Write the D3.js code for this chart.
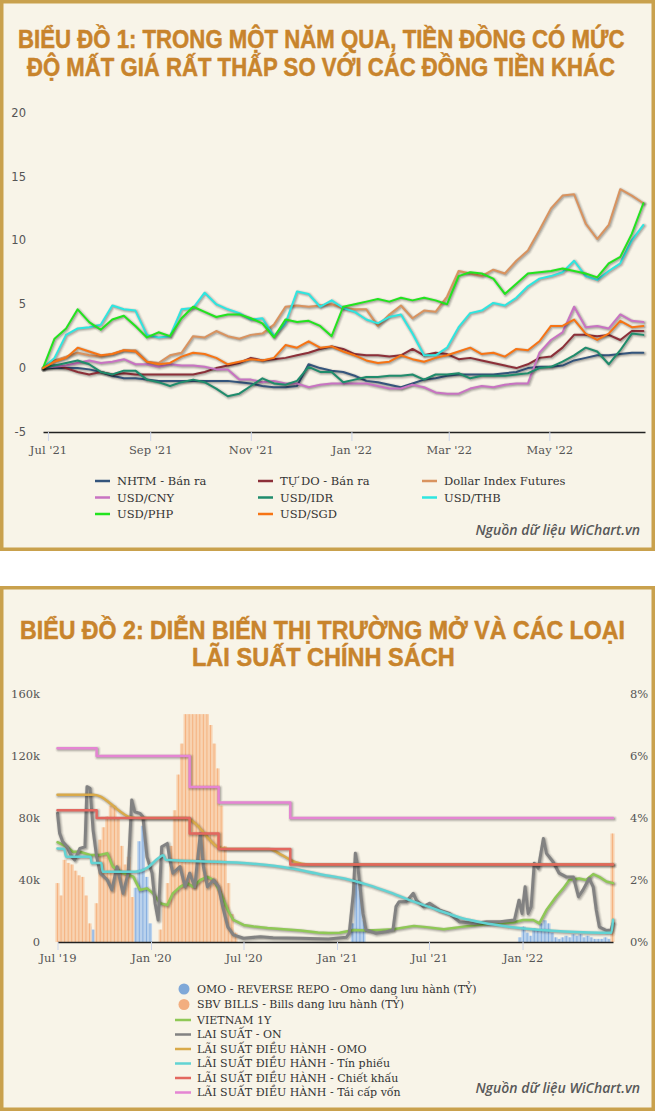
<!DOCTYPE html>
<html><head><meta charset="utf-8">
<script src="https://cdn.jsdelivr.net/npm/d3@7/dist/d3.min.js"></script>
<style>
html,body{margin:0;padding:0;background:#fff;}
svg{display:block;}
</style></head>
<body>
<svg id="c" width="656" height="1111"></svg>
<script>
// ---------------- CHART 1 DATA (% change since 28 Jun 2021, weekly) ----------------
const fxStart = '2021-06-28', fxEnd = '2022-06-28';
const fxNames = ['NHTM - Bán ra','TỰ DO - Bán ra','Dollar Index Futures','USD/CNY','USD/IDR','USD/THB','USD/PHP','USD/SGD'];
const fxColors = ['#34557c','#8c2f38','#d9935f','#c873c2','#1f8c6c','#2ee6e0','#22e41e','#f77414'];
const nhtm = [0,0,0,0,-0.1,-0.3,-0.6,-0.8,-0.8,-0.9,-1.0,-1.0,-1.0,-1.0,-1.0,-1.0,-1.0,-1.1,-1.2,-1.4,-1.5,-1.5,-1.4,0.3,0.0,-0.2,-0.3,-0.6,-1.0,-1.1,-1.3,-1.5,-1.2,-0.9,-0.8,-0.6,-0.5,-0.5,-0.5,-0.5,-0.4,-0.3,0.0,0.1,0.1,0.2,0.6,0.8,1.0,1.0,1.1,1.2,1.2];
const tudo = [0,0.2,0.0,-0.3,-0.5,-0.3,-0.5,-0.4,-0.5,-0.5,-0.5,-0.5,-0.5,-0.5,-0.3,0.0,0.2,0.4,0.8,0.6,0.7,0.8,1.0,1.2,1.5,1.7,1.5,1.1,1.0,1.0,0.9,1.0,1.5,1.0,1.2,1.1,0.7,0.8,0.6,0.4,0.2,0.0,0.3,0.8,0.9,1.6,2.6,2.6,2.5,2.6,2.2,2.9,2.9];
const dxy = [0,0.6,0.9,1.2,1.0,0.9,1.1,1.4,1.4,0.5,0.4,1.0,1.2,2.5,2.4,2.9,2.5,2.3,2.6,2.7,3.4,4.8,4.9,4.8,4.9,5.0,4.7,4.6,4.6,3.3,4.2,4.9,3.9,4.5,4.4,5.6,7.6,7.4,7.2,7.7,7.4,8.4,9.2,10.8,12.5,13.5,13.6,11.3,10.1,11.2,14.0,13.5,12.9];
const cny = [0,0.1,0.2,0.4,0.6,0.4,0.5,0.7,0.3,0.3,0.1,0.3,0.2,0.2,0.1,-0.1,-0.1,-0.9,-0.9,-1.1,-1.0,-1.2,-1.2,-1.5,-1.3,-1.2,-1.2,-1.2,-1.2,-1.4,-1.6,-1.6,-1.3,-1.5,-1.9,-2.0,-2.0,-1.6,-1.4,-1.5,-1.3,-1.2,-1.2,1.2,2.2,2.8,4.8,3.2,3.3,3.1,4.2,3.7,3.6];
const idr = [0,0.2,0.4,0.6,0.3,-0.3,-0.5,-0.2,-0.2,-0.9,-1.1,-1.4,-1.1,-0.9,-1.1,-1.6,-2.2,-2.0,-1.4,-0.8,-1.2,-1.3,-1.0,0.1,-0.3,-0.3,-1.1,-0.9,-0.7,-0.7,-0.6,-0.6,-0.5,-0.9,-0.5,-0.5,-0.4,-0.8,-0.6,-0.6,-0.6,-0.5,-0.4,0.0,0.1,0.5,1.0,1.6,1.3,0.3,1.4,2.7,2.6];
const thb = [0,0.8,2.6,3.1,3.2,3.4,4.9,4.6,4.5,2.6,2.4,2.5,4.6,4.7,5.9,5.0,4.6,4.3,3.8,3.9,2.5,3.5,6.0,5.8,4.8,5.3,4.7,4.4,3.8,3.5,4.0,4.2,2.7,1.0,1.0,1.6,3.2,4.3,4.5,5.1,4.9,5.5,6.4,7.0,7.2,7.5,8.4,7.2,6.9,7.6,8.2,10.0,11.2];
const php = [0,2.3,3.1,4.6,3.6,3.0,3.8,4.1,3.3,2.4,2.8,2.5,3.9,4.8,4.4,4.0,4.2,4.2,3.9,3.5,2.4,3.8,3.6,3.7,3.3,2.5,4.8,5.0,5.2,5.4,5.2,5.5,5.3,5.5,5.3,5.0,7.2,7.5,7.4,7.0,5.8,6.6,7.4,7.5,7.6,7.8,7.6,7.4,7.1,8.2,8.7,10.5,12.9];
const sgd = [0,0.5,0.8,1.6,1.3,1.0,1.1,1.4,1.3,0.5,0.3,0.4,0.9,1.2,1.1,0.8,0.3,0.5,0.7,0.6,0.8,1.8,1.6,2.1,1.6,1.7,1.3,1.0,0.6,0.4,0.5,1.0,0.7,0.5,0.8,1.0,1.3,1.6,1.1,1.2,0.9,1.5,1.4,2.1,3.3,3.3,3.8,2.7,2.2,2.7,3.7,3.2,3.3];
const fxSeries = [nhtm,tudo,dxy,cny,idr,thb,php,sgd];
const fxTicksY = [-5,0,5,10,15,20];

// ---------------- CHART 2 DATA ----------------
const c2Start = '2019-07-01', c2End = '2022-06-28';
const omoDates = ['2019-09-02','2019-09-09','2019-11-25','2019-12-02','2019-12-09','2019-12-16','2019-12-23','2019-12-30','2021-02-01','2021-02-08','2021-02-15','2021-02-22','2021-12-27','2022-01-03','2022-01-10','2022-01-17','2022-01-24','2022-01-31','2022-02-07','2022-02-14','2022-02-21','2022-02-28','2022-03-07','2022-03-14','2022-03-21','2022-03-28','2022-04-04','2022-04-11','2022-04-18','2022-04-25','2022-05-02','2022-05-09','2022-05-16','2022-05-23','2022-05-30','2022-06-06','2022-06-13','2022-06-20'];
const omoValues = [10,8,8,35,65,75,42,12,12,40,38,14,3,10,6,4,9,8,12,14,12,6,3,2,3,4,3,5,4,5,3,4,3,2,2,2,3,2];
const billDates = ['2019-07-01','2019-07-08','2019-07-15','2019-07-22','2019-07-29','2019-08-05','2019-08-12','2019-08-19','2019-08-26','2019-09-02',
 '2019-09-16','2019-09-23','2019-09-30','2019-10-07','2019-10-14','2019-10-21','2019-10-28','2019-11-04','2019-11-11','2019-11-18','2019-11-25',
 '2020-01-20','2020-01-27','2020-02-03','2020-02-10','2020-02-17','2020-02-24','2020-03-02','2020-03-09','2020-03-16','2020-03-23','2020-03-30','2020-04-06','2020-04-13','2020-04-20','2020-04-27','2020-05-04','2020-05-11','2020-05-18','2020-05-25','2020-06-01','2020-06-08','2020-06-15',
 '2022-06-27'];
const billValues = [38,30,53,51,50,46,43,42,30,12,
 25,66,74,81,88,88,80,62,50,55,29,
 8,25,38,62,85,108,128,147,147,147,147,147,147,147,140,128,112,88,62,38,18,6,
 70];
const vn1yDates = ['2019-07-01','2019-07-20','2019-07-31','2019-08-14','2019-09-03','2019-09-23','2019-10-07','2019-10-18','2019-11-07','2019-11-27','2019-12-10','2019-12-24','2020-01-05','2020-01-19','2020-02-02','2020-02-13','2020-02-27','2020-03-12','2020-03-24','2020-04-07','2020-04-21','2020-05-03','2020-05-17','2020-05-31','2020-06-11','2020-07-01','2020-07-21','2020-08-17','2020-09-18','2020-10-21','2020-11-24','2020-12-15','2021-01-06','2021-02-03','2021-02-28','2021-03-26','2021-04-22','2021-06-01','2021-06-26','2021-07-30','2021-08-30','2021-10-03','2021-11-05','2021-12-14','2022-01-02','2022-01-22','2022-02-03','2022-02-17','2022-03-08','2022-03-22','2022-04-03','2022-04-22','2022-05-06','2022-05-20','2022-06-01','2022-06-15','2022-06-28'];
const vn1yValues = [3.22,3.07,2.91,2.91,2.81,2.81,2.86,2.43,2.22,2.11,1.68,1.73,1.57,1.25,1.19,1.57,1.78,1.9,1.78,2.0,2.1,2.0,1.57,1.03,0.71,0.55,0.5,0.45,0.41,0.37,0.31,0.29,0.3,0.39,0.37,0.39,0.41,0.52,0.48,0.41,0.48,0.55,0.6,0.63,0.71,0.71,0.6,1.03,1.46,1.73,2.0,2.05,2.0,2.19,2.1,1.95,1.9];
const onDates = ['2019-07-01','2019-07-05','2019-07-11','2019-07-20','2019-07-29','2019-08-04','2019-08-14','2019-08-24','2019-08-28','2019-09-03','2019-09-09','2019-09-16','2019-09-23','2019-10-07','2019-10-16','2019-10-26','2019-11-07','2019-11-17','2019-11-24','2019-11-30','2019-12-10','2019-12-16','2019-12-24','2020-01-03','2020-01-09','2020-01-15','2020-01-22','2020-02-02','2020-02-07','2020-02-13','2020-02-27','2020-03-08','2020-03-17','2020-03-27','2020-04-07','2020-04-13','2020-04-21','2020-05-03','2020-05-13','2020-05-21','2020-05-31','2020-06-11','2020-07-01','2020-08-03','2020-08-28','2020-10-21','2020-12-15','2021-01-19','2021-01-25','2021-02-02','2021-02-06','2021-02-11','2021-02-13','2021-02-21','2021-02-27','2021-03-19','2021-04-08','2021-04-21','2021-04-27','2021-05-03','2021-05-17','2021-05-31','2021-06-06','2021-06-20','2021-07-02','2021-07-22','2021-08-10','2021-08-30','2021-09-27','2021-10-23','2021-11-18','2021-12-16','2021-12-25','2021-12-31','2022-01-06','2022-01-12','2022-01-18','2022-01-24','2022-02-01','2022-02-11','2022-02-17','2022-03-02','2022-03-14','2022-03-28','2022-04-11','2022-04-21','2022-04-30','2022-05-12','2022-05-20','2022-05-26','2022-06-01','2022-06-15','2022-06-24','2022-06-28'];
const onValues = [4.15,3.52,3.24,3.07,2.75,2.65,3.02,3.07,5.01,4.96,3.61,2.75,2.22,2.0,1.68,2.43,1.57,2.22,4.58,4.2,4.15,4.04,2.75,2.22,1.25,0.71,3.07,3.18,2.65,2.22,2.43,1.78,2.22,1.78,3.5,2.43,1.78,2.0,1.78,1.14,0.49,0.23,0.12,0.17,0.14,0.12,0.1,0.15,0.28,1.57,2.86,2.43,2.1,0.92,0.39,0.28,0.33,0.39,1.14,1.3,1.3,1.57,1.35,1.14,1.25,1.03,0.92,0.65,0.6,0.65,0.65,0.71,1.35,0.92,1.78,0.92,1.14,2.54,2.38,3.34,2.86,2.59,2.22,2.1,2.1,1.46,1.68,2.05,1.78,1.03,0.49,0.37,0.39,0.6];
const omoRateDates = ['2019-07-01','2019-09-09','2019-09-23','2019-10-13','2019-11-02','2019-11-22','2019-12-10','2020-03-10','2020-03-31','2020-04-20','2020-05-10','2020-06-01','2020-08-20','2020-09-15','2020-10-10','2020-11-05','2022-06-28'];
const omoRateValues = [4.75,4.75,4.7,4.47,4.2,4.02,4.0,4.0,3.78,3.4,3.08,3.0,3.0,2.8,2.58,2.5,2.5];
const tinDates = ['2019-07-01','2019-07-14','2019-07-18','2019-09-04','2019-09-06','2019-09-25','2019-09-28','2019-12-01','2019-12-25','2020-01-15','2020-01-25','2020-01-30','2020-07-01','2020-10-01','2020-12-01','2021-01-15','2021-03-01','2021-04-15','2021-06-01','2021-07-15','2021-09-01','2021-10-15','2021-12-01','2022-01-15','2022-03-01','2022-04-15','2022-06-01','2022-06-25','2022-06-28'];
const tinValues = [3.02,3.0,2.75,2.75,2.55,2.55,2.27,2.27,2.4,2.7,2.8,2.65,2.55,2.38,2.18,2.05,1.85,1.6,1.3,1.05,0.78,0.62,0.5,0.42,0.36,0.32,0.3,0.3,0.72];
const policyDates = ['2019-07-01','2019-09-16','2020-03-17','2020-05-13','2020-10-01','2022-06-28'];
const discountValues = [4.25,4.0,3.5,3.0,2.5,2.5];
const refiValues = [6.25,6.0,5.0,4.5,4.0,4.0];
const leftTicks = [0,40,80,120,160];
const rightTicks = [0,2,4,6,8];
const c2LineNames = ['VIETNAM 1Y','LAI SUẤT - ON','LÃI SUẤT ĐIỀU HÀNH - OMO','LÃI SUẤT ĐIỀU HÀNH - Tín phiếu','LÃI SUẤT ĐIỀU HÀNH - Chiết khấu','LÃI SUẤT ĐIỀU HÀNH - Tái cấp vốn'];
const c2LineColors = ['#8fc856','#828282','#d9aa4a','#62d3d3','#e3675f','#e585d3'];
const c2BarNames = ['OMO - REVERSE REPO - Omo dang lưu hành (TỶ)','SBV BILLS - Bills dang lưu hành (TỶ)'];
const c2BarColors = ['#7fa8d8','#f2ae80'];

// ---------------- DRAWING ----------------
const parse = d3.timeParse('%Y-%m-%d');
const svg = d3.select('#c');
const serif = "'DejaVu Serif', serif";
const titleFont = "'Liberation Sans Narrow','Liberation Sans',Arial,sans-serif";
const titleColor = '#c8842c';

function panel(y0, y1) {
  svg.append('rect').attr('x',1.75).attr('y',y0+1.75).attr('width',651.5).attr('height',y1-y0-3.5)
    .attr('fill','#f8f4e8').attr('stroke','#c9a14d').attr('stroke-width',3.5);
}
panel(0,551);
panel(586,1111);

function title(lines) {
  lines.forEach(l => {
    const t = svg.append('text').attr('x',0).attr('y',0).text(l[0])
      .attr('font-family',titleFont).attr('font-weight',700).attr('font-size',25)
      .attr('fill',titleColor).attr('stroke',titleColor).attr('stroke-width',0.5);
    const w = t.node().getComputedTextLength();
    t.attr('transform',`translate(${l[1]},${l[2]}) scale(${l[3]/w},1)`);
  });
}
title([['BIỂU ĐỒ 1: TRONG MỘT NĂM QUA, TIỀN ĐỒNG CÓ MỨC',18,48,607],
       ['ĐỘ MẤT GIÁ RẤT THẤP SO VỚI CÁC ĐỒNG TIỀN KHÁC',27,76,588],
       ['BIỂU ĐỒ 2: DIỄN BIẾN THỊ TRƯỜNG MỞ VÀ CÁC LOẠI',20,639,605],
       ['LÃI SUẤT CHÍNH SÁCH',192,666,263]]);

function drawLine(g, pts, xf, yf, color, lw, curve) {
  const line = d3.line().x(d=>xf(d[0])).y(d=>yf(d[1])).curve(curve||d3.curveLinear);
  const ds = line(pts);
  [[lw+4,0.05],[lw+2,0.1],[lw,0.15]].forEach(s => {
    g.append('path').attr('d',ds).attr('fill','none').attr('stroke','#000')
      .attr('stroke-opacity',s[1]).attr('stroke-width',s[0]).attr('transform','translate(1,1)')
      .attr('stroke-linejoin','round').attr('stroke-linecap','round');
  });
  g.append('path').attr('d',ds).attr('fill','none').attr('stroke',color).attr('stroke-width',lw)
    .attr('stroke-linejoin','round').attr('stroke-linecap','round');
}

function styleAxis(g, fontFamily, size) {
  g.selectAll('text').attr('font-family',fontFamily).attr('font-size',size).attr('fill','#555');
}

// ---- chart 1 ----
const x1 = d3.scaleTime().domain([parse(fxStart), parse(fxEnd)]).range([43,645]);
const y1 = d3.scaleLinear().domain([-5,20]).range([432,112.5]);
const fxDates = d3.timeMonday.range(parse(fxStart), d3.timeDay.offset(parse(fxEnd),1));

const ya1 = svg.append('g').attr('transform','translate(26,0)')
  .call(d3.axisLeft(y1).tickValues(fxTicksY).tickSize(0).tickPadding(0).tickFormat(d=>String(d)));
ya1.select('.domain').remove();
styleAxis(ya1, "'DejaVu Sans',sans-serif", 11.5);

const g1 = svg.append('g');
fxSeries.forEach((s,i) => {
  const pts = s.map((v,k)=>[fxDates[k], v]).filter(p=>p[0]);
  drawLine(g1.append('g'), pts, x1, y1, fxColors[i], 2);
});

const xa1 = svg.append('g').attr('transform','translate(0,432)')
  .call(d3.axisBottom(x1).ticks(d3.timeMonth.every(2)).tickFormat(d3.timeFormat("%b '%y")).tickSize(9).tickSizeOuter(0).tickPadding(5));
xa1.select('.domain').attr('stroke','#222').attr('stroke-width',1.5);
xa1.selectAll('.tick line').attr('stroke','#ccd6eb');
styleAxis(xa1, serif, 11.5);

// legend 1
const legCols = [95,258,422], legRows = [481,497.5,514];
fxNames.forEach((n,i) => {
  const cx = legCols[i%3], cy = legRows[Math.floor(i/3)];
  svg.append('line').attr('x1',cx).attr('x2',cx+15).attr('y1',cy).attr('y2',cy)
    .attr('stroke',fxColors[i]).attr('stroke-width',2.5);
  svg.append('text').attr('x',cx+22).attr('y',cy).attr('dy','0.35em').text(n)
    .attr('font-family',serif).attr('font-size',11.5).attr('fill','#333');
});

function source(y) {
  svg.append('text').attr('x',640).attr('y',y).attr('text-anchor','end').text('Nguồn dữ liệu WiChart.vn')
    .attr('font-family',"'Open Sans',sans-serif").attr('font-style','italic').attr('font-weight',600)
    .attr('font-size',14).attr('fill','#595959');
}
source(535);

// ---- chart 2 ----
const x2 = d3.scaleTime().domain([parse(c2Start), parse(c2End)]).range([57.5,613]);
const yL = d3.scaleLinear().domain([0,160]).range([942,694]);
const yR = d3.scaleLinear().domain([0,8]).range([942,694]);

const yaL = svg.append('g').attr('transform','translate(40,0)')
  .call(d3.axisLeft(yL).tickValues(leftTicks).tickSize(0).tickPadding(0).tickFormat(d=>d===0?'0':d+'k'));
yaL.select('.domain').remove();
styleAxis(yaL, serif, 11.5);
const yaR = svg.append('g').attr('transform','translate(630,0)')
  .call(d3.axisRight(yR).tickValues(rightTicks).tickSize(0).tickPadding(0).tickFormat(d=>d+'%'));
yaR.select('.domain').remove();
styleAxis(yaR, serif, 11.5);

const g2 = svg.append('g');
function drawBars(dates, values, fill, stroke) {
  const g = g2.append('g');
  dates.forEach((ds,i) => {
    const d = parse(ds);
    const xa = x2(d), bw = x2(d3.timeDay.offset(d,7)) - xa;
    g.append('rect').attr('x',xa-bw/2-0.3).attr('y',yL(values[i])).attr('width',bw+0.6)
      .attr('height',yL(0)-yL(values[i])).attr('fill',fill);
  });
  dates.forEach((ds,i) => {
    const xa = x2(parse(ds));
    g.append('line').attr('x1',xa).attr('x2',xa).attr('y1',yL(values[i])).attr('y2',yL(0))
      .attr('stroke',stroke).attr('stroke-width',0.7).attr('stroke-opacity',0.8);
  });
}
drawBars(omoDates, omoValues, '#bad2ec', '#5f93d6');
drawBars(billDates, billValues, '#f8d2b0', '#f29a5c');

const zip = (ds, vs) => ds.map((d,i)=>[parse(d), vs[i]]).filter(p=>p[1]!=null);
const c2Lines = [
  [zip(vn1yDates,vn1yValues), d3.curveLinear, 2.5],
  [zip(onDates,onValues), d3.curveLinear, 3],
  [zip(omoRateDates,omoRateValues), d3.curveMonotoneX, 2.5],
  [zip(tinDates,tinValues), d3.curveMonotoneX, 2.5],
  [zip(policyDates,discountValues), d3.curveStepAfter, 2.5],
  [zip(policyDates,refiValues), d3.curveStepAfter, 2.5]
];
c2Lines.forEach((l,i) => drawLine(g2.append('g'), l[0], x2, yR, c2LineColors[i], l[2], l[1]));

const xa2 = svg.append('g').attr('transform','translate(0,942)')
  .call(d3.axisBottom(x2).ticks(d3.timeMonth.every(6)).tickFormat(d3.timeFormat("%b '%y")).tickSize(8).tickSizeOuter(0).tickPadding(4));
xa2.select('.domain').attr('stroke','#222').attr('stroke-width',1.5);
xa2.selectAll('.tick line').attr('stroke','#ccd6eb');
styleAxis(xa2, serif, 11.5);

// legend 2
const leg2Rows = [989,1004.5,1020,1034.5,1049,1063.5,1078,1092.5];
c2BarNames.forEach((n,i) => {
  svg.append('circle').attr('cx',184).attr('cy',leg2Rows[i]).attr('r',5.5).attr('fill',c2BarColors[i]);
  svg.append('text').attr('x',197).attr('y',leg2Rows[i]).attr('dy','0.35em').text(n)
    .attr('font-family',serif).attr('font-size',11).attr('fill','#333');
});
c2LineNames.forEach((n,i) => {
  const cy = leg2Rows[i+2];
  svg.append('line').attr('x1',175).attr('x2',191).attr('y1',cy).attr('y2',cy)
    .attr('stroke',c2LineColors[i]).attr('stroke-width',2.5);
  svg.append('text').attr('x',197).attr('y',cy).attr('dy','0.35em').text(n)
    .attr('font-family',serif).attr('font-size',11).attr('fill','#333');
});
source(1093);
</script>
</body></html>
